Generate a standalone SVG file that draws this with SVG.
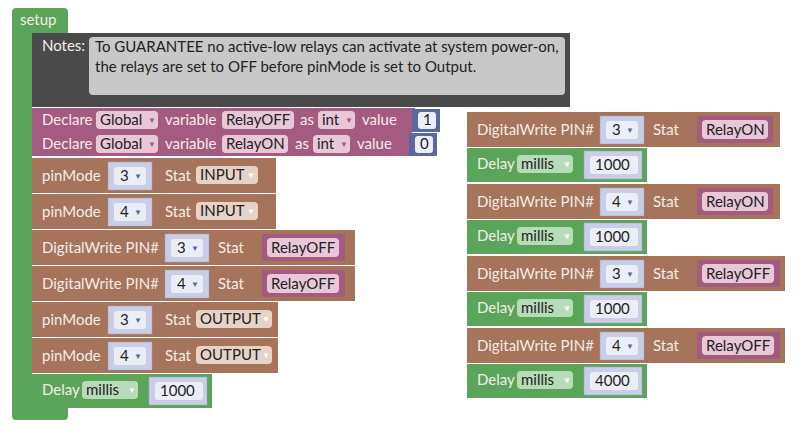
<svg xmlns="http://www.w3.org/2000/svg" width="800" height="430" viewBox="0 0 800 430">
<style>
text{font-family:Lato,"Noto Sans",sans-serif;font-size:15px;fill:#f4ece6}
.dk{fill:#222}
.g{fill:#5ba55b}.br{fill:#a5745b}.mg{fill:#a55b80}.bl{fill:#5b67a5}
.pin{fill:#c9cde6;stroke:#9aa0c0;stroke-width:0.5}
.fw{fill:#eceef7}
.vp{fill:#e8c8d8}
.dd{fill:#e6d2c6}
.gd{fill:#b8dcb8}
.ar{fill:#fff;font-size:8px}
</style>
<rect width="800" height="430" fill="#fff"/>
<g id="setup">
<path class="g" d="M16 8 H64 Q68 8 68 12 V34 H32 V400 H68 V416 Q68 420 64 420 H16 Q12 420 12 416 V12 Q12 8 16 8 Z"/>
<text x="20" y="25">setup</text>
</g>
<g id="notes">
<rect x="32" y="33" width="538" height="74" fill="#4a4a4a"/>
<text x="42" y="51">Notes:</text>
<rect x="89" y="37" width="476" height="58" rx="4" fill="#c8c8c8"/>
<text class="dk" x="95" y="52">To GUARANTEE no active-low relays can activate at system power-on,</text>
<text class="dk" x="95" y="72">the relays are set to OFF before pinMode is set to Output.</text>
</g>
<g id="decl1">
<rect class="mg" x="32" y="108" width="383" height="24"/>
<text x="42" y="125">Declare</text>
<rect class="vp" x="96" y="111" width="62" height="18" rx="4"/><text class="dk" x="100" y="125">Global</text><text class="ar" x="148" y="123" style="fill:#a55b80">▼</text>
<text x="165" y="125">variable</text>
<rect class="vp" x="222" y="111" width="72" height="18" rx="4"/><text class="dk" x="226" y="125">RelayOFF</text>
<text x="300" y="125">as</text>
<rect class="vp" x="318" y="111" width="37" height="18" rx="4"/><text class="dk" x="322" y="125">int</text><text class="ar" x="345" y="123" style="fill:#a55b80">▼</text>
<text x="362" y="125">value</text>
<rect class="bl" x="412" y="109" width="28" height="23"/>
<rect class="fw" x="418" y="112" width="18" height="17" rx="3"/><text class="dk" x="423" y="125">1</text>
</g>
<g id="decl2">
<rect class="mg" x="32" y="132" width="380" height="24"/>
<text x="42" y="149">Declare</text>
<rect class="vp" x="96" y="135" width="62" height="18" rx="4"/><text class="dk" x="100" y="149">Global</text><text class="ar" x="148" y="147" style="fill:#a55b80">▼</text>
<text x="165" y="149">variable</text>
<rect class="vp" x="222" y="135" width="66" height="18" rx="4"/><text class="dk" x="226" y="149">RelayON</text>
<text x="295" y="149">as</text>
<rect class="vp" x="313" y="135" width="37" height="18" rx="4"/><text class="dk" x="317" y="149">int</text><text class="ar" x="340" y="147" style="fill:#a55b80">▼</text>
<text x="357" y="149">value</text>
<rect class="bl" x="409" y="133" width="28" height="23"/>
<rect class="fw" x="415" y="136" width="18" height="17" rx="3"/><text class="dk" x="420" y="149">0</text>
</g>
<g id="pm1">
<rect class="br" x="32" y="158" width="244" height="35"/>
<text x="42" y="181">pinMode</text>
<rect class="pin" x="108" y="162" width="44" height="28"/><rect class="fw" x="114" y="167" width="32" height="18" rx="3"/><text class="dk" x="120" y="181">3</text><text class="ar" x="134" y="179" style="fill:#5b67a5">▼</text>
<text x="165" y="181">Stat</text>
<rect class="dd" x="196" y="166" width="62" height="18" rx="4"/><text class="dk" x="200" y="180">INPUT</text><text class="ar" x="247" y="178">▼</text>
</g>
<g id="pm2">
<rect class="br" x="32" y="194" width="244" height="35"/>
<text x="42" y="217">pinMode</text>
<rect class="pin" x="108" y="198" width="44" height="28"/><rect class="fw" x="114" y="203" width="32" height="18" rx="3"/><text class="dk" x="120" y="217">4</text><text class="ar" x="134" y="215" style="fill:#5b67a5">▼</text>
<text x="165" y="217">Stat</text>
<rect class="dd" x="196" y="202" width="62" height="18" rx="4"/><text class="dk" x="200" y="216">INPUT</text><text class="ar" x="247" y="214">▼</text>
</g>
<g id="dw1">
<rect class="br" x="32" y="230" width="323" height="35"/>
<text x="42" y="253">DigitalWrite PIN#</text>
<rect class="pin" x="165" y="234" width="44" height="28"/><rect class="fw" x="171" y="239" width="32" height="18" rx="3"/><text class="dk" x="177" y="253">3</text><text class="ar" x="191" y="251" style="fill:#5b67a5">▼</text>
<text x="218" y="253">Stat</text>
<rect class="mg" x="262" y="234" width="83" height="27"/><rect class="vp" x="267" y="238" width="72" height="19" rx="4"/><text class="dk" x="271" y="253">RelayOFF</text>
</g>
<g id="dw2">
<rect class="br" x="32" y="266" width="323" height="35"/>
<text x="42" y="289">DigitalWrite PIN#</text>
<rect class="pin" x="165" y="270" width="44" height="28"/><rect class="fw" x="171" y="275" width="32" height="18" rx="3"/><text class="dk" x="177" y="289">4</text><text class="ar" x="191" y="287" style="fill:#5b67a5">▼</text>
<text x="218" y="289">Stat</text>
<rect class="mg" x="262" y="270" width="83" height="27"/><rect class="vp" x="267" y="274" width="72" height="19" rx="4"/><text class="dk" x="271" y="289">RelayOFF</text>
</g>
<g id="pm3">
<rect class="br" x="32" y="302" width="246" height="35"/>
<text x="42" y="325">pinMode</text>
<rect class="pin" x="108" y="306" width="44" height="28"/><rect class="fw" x="114" y="311" width="32" height="18" rx="3"/><text class="dk" x="120" y="325">3</text><text class="ar" x="134" y="323" style="fill:#5b67a5">▼</text>
<text x="165" y="325">Stat</text>
<rect class="dd" x="196" y="310" width="76" height="18" rx="4"/><text class="dk" x="200" y="324">OUTPUT</text><text class="ar" x="262" y="322">▼</text>
</g>
<g id="pm4">
<rect class="br" x="32" y="338" width="246" height="35"/>
<text x="42" y="361">pinMode</text>
<rect class="pin" x="108" y="342" width="44" height="28"/><rect class="fw" x="114" y="347" width="32" height="18" rx="3"/><text class="dk" x="120" y="361">4</text><text class="ar" x="134" y="359" style="fill:#5b67a5">▼</text>
<text x="165" y="361">Stat</text>
<rect class="dd" x="196" y="346" width="76" height="18" rx="4"/><text class="dk" x="200" y="360">OUTPUT</text><text class="ar" x="262" y="358">▼</text>
</g>
<g id="delay1">
<rect class="g" x="32" y="374" width="180" height="34"/>
<text x="42" y="395">Delay</text>
<rect class="gd" x="82" y="381" width="56" height="18" rx="4"/><text class="dk" x="86" y="395">millis</text><text class="ar" x="128" y="393">▼</text>
<rect class="pin" x="149" y="377" width="58" height="28"/><rect class="fw" x="155" y="382" width="48" height="18" rx="3"/><text class="dk" x="160" y="396">1000</text>
</g>
<g id="r_dw1">
<rect class="br" x="467" y="112" width="313" height="35"/>
<text x="477" y="135">DigitalWrite PIN#</text>
<rect class="pin" x="600" y="116" width="44" height="28"/><rect class="fw" x="606" y="121" width="32" height="18" rx="3"/><text class="dk" x="612" y="135">3</text><text class="ar" x="626" y="133" style="fill:#5b67a5">▼</text>
<text x="653" y="135">Stat</text>
<rect class="mg" x="697" y="116" width="76" height="27"/><rect class="vp" x="702" y="120" width="66" height="19" rx="4"/><text class="dk" x="706" y="135">RelayON</text>
</g>
<g id="r_d1">
<rect class="g" x="467" y="148" width="180" height="34"/>
<text x="477" y="169">Delay</text>
<rect class="gd" x="517" y="155" width="56" height="18" rx="4"/><text class="dk" x="521" y="169">millis</text><text class="ar" x="563" y="167">▼</text>
<rect class="pin" x="584" y="151" width="58" height="28"/><rect class="fw" x="590" y="156" width="48" height="18" rx="3"/><text class="dk" x="595" y="170">1000</text>
</g>
<g id="r_dw2">
<rect class="br" x="467" y="184" width="313" height="35"/>
<text x="477" y="207">DigitalWrite PIN#</text>
<rect class="pin" x="600" y="188" width="44" height="28"/><rect class="fw" x="606" y="193" width="32" height="18" rx="3"/><text class="dk" x="612" y="207">4</text><text class="ar" x="626" y="205" style="fill:#5b67a5">▼</text>
<text x="653" y="207">Stat</text>
<rect class="mg" x="697" y="188" width="76" height="27"/><rect class="vp" x="702" y="192" width="66" height="19" rx="4"/><text class="dk" x="706" y="207">RelayON</text>
</g>
<g id="r_d2">
<rect class="g" x="467" y="220" width="180" height="34"/>
<text x="477" y="241">Delay</text>
<rect class="gd" x="517" y="227" width="56" height="18" rx="4"/><text class="dk" x="521" y="241">millis</text><text class="ar" x="563" y="239">▼</text>
<rect class="pin" x="584" y="223" width="58" height="28"/><rect class="fw" x="590" y="228" width="48" height="18" rx="3"/><text class="dk" x="595" y="242">1000</text>
</g>
<g id="r_dw3">
<rect class="br" x="467" y="256" width="318" height="35"/>
<text x="477" y="279">DigitalWrite PIN#</text>
<rect class="pin" x="600" y="260" width="44" height="28"/><rect class="fw" x="606" y="265" width="32" height="18" rx="3"/><text class="dk" x="612" y="279">3</text><text class="ar" x="626" y="277" style="fill:#5b67a5">▼</text>
<text x="653" y="279">Stat</text>
<rect class="mg" x="697" y="260" width="83" height="27"/><rect class="vp" x="702" y="264" width="72" height="19" rx="4"/><text class="dk" x="706" y="279">RelayOFF</text>
</g>
<g id="r_d3">
<rect class="g" x="467" y="292" width="180" height="34"/>
<text x="477" y="313">Delay</text>
<rect class="gd" x="517" y="299" width="56" height="18" rx="4"/><text class="dk" x="521" y="313">millis</text><text class="ar" x="563" y="311">▼</text>
<rect class="pin" x="584" y="295" width="58" height="28"/><rect class="fw" x="590" y="300" width="48" height="18" rx="3"/><text class="dk" x="595" y="314">1000</text>
</g>
<g id="r_dw4">
<rect class="br" x="467" y="328" width="318" height="35"/>
<text x="477" y="351">DigitalWrite PIN#</text>
<rect class="pin" x="600" y="332" width="44" height="28"/><rect class="fw" x="606" y="337" width="32" height="18" rx="3"/><text class="dk" x="612" y="351">4</text><text class="ar" x="626" y="349" style="fill:#5b67a5">▼</text>
<text x="653" y="351">Stat</text>
<rect class="mg" x="697" y="332" width="83" height="27"/><rect class="vp" x="702" y="336" width="72" height="19" rx="4"/><text class="dk" x="706" y="351">RelayOFF</text>
</g>
<g id="r_d4">
<rect class="g" x="467" y="364" width="180" height="34"/>
<text x="477" y="385">Delay</text>
<rect class="gd" x="517" y="371" width="56" height="18" rx="4"/><text class="dk" x="521" y="385">millis</text><text class="ar" x="563" y="383">▼</text>
<rect class="pin" x="584" y="367" width="58" height="28"/><rect class="fw" x="590" y="372" width="48" height="18" rx="3"/><text class="dk" x="595" y="386">4000</text>
</g>
<g id="connectors"/>
</svg>
